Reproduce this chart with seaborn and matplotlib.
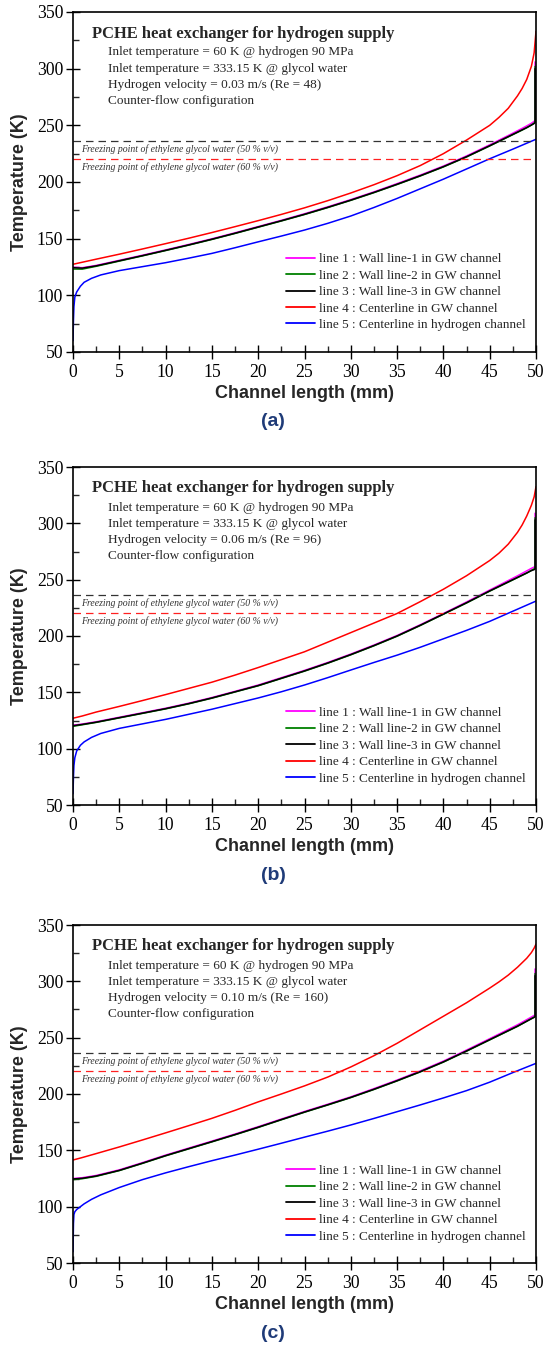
import matplotlib
matplotlib.use("Agg")
import matplotlib.pyplot as plt
import matplotlib.transforms as mtransforms
from matplotlib.ticker import MultipleLocator
import seaborn as sns
import numpy as np

sns.set_style("ticks")
plt.rcParams['font.family'] = ['Liberation Serif', 'DejaVu Serif']

# ---------------- data ----------------
X_GRID = [0, 1, 2.5, 5, 7.5, 10, 12.5, 15, 17.5, 20, 22.5, 25, 27.5, 30, 32.5,
          35, 37.5, 40, 42.5, 45, 46, 47, 48, 48.5, 49, 49.5, 49.8, 50]
X_BLUE = [0, 0.05, 0.1, 0.2, 0.4, 0.8, 1.2, 2, 3, 5, 7.5, 10, 12.5, 15, 17.5, 20,
          22.5, 25, 27.5, 30, 32.5, 35, 37.5, 40, 42.5, 45, 47.5, 50]
SPIKE_X = 49.9  # outlet position where wall temperatures jump

# panel (a)
red_a = [127.4, 129.2, 131.9, 136.3, 140.9, 145.6, 150.4, 155.4, 160.6, 165.9, 171.4, 177.2, 183.5,
         190.3, 197.6, 205.6, 214.5, 225.0, 237.0, 250.0, 257.0, 265.0, 276.0, 282.5, 290.5, 302.0, 314.0, 333.0]
black_a = [124.4, 124.0, 126.0, 130.5, 135.0, 139.7, 144.5, 149.5, 154.8, 160.3, 165.8, 171.5, 177.6,
           184.0, 190.8, 198.0, 205.5, 213.5, 222.3, 232.0, 236.0, 240.0, 244.0, 246.0, 248.0, 250.2, 251.6, 252.4]
magenta_a = [124.8, 124.4, 126.4, 130.9, 135.4, 140.1, 144.9, 149.9, 155.2, 160.7, 166.2, 172.0, 178.1,
             184.5, 191.3, 198.6, 206.1, 214.1, 223.0, 232.8, 236.9, 241.0, 245.2, 247.3, 249.5, 251.8, 253.5, 254.8]
green_a = [123.2, 123.1, 125.6, 130.2, 134.8, 139.5, 144.3, 149.3, 154.6, 160.1, 165.6, 171.3, 177.4,
           183.8, 190.6, 197.8, 205.3, 213.3, 222.1, 231.8, 235.8, 239.8, 243.8, 245.8, 247.9, 250.3, 252.0, 253.2]
blue_a = [60, 78, 90, 98.5, 103, 108, 111.5, 115, 118, 121.8, 125.3, 128.8, 132.8, 137.0, 142.0, 147.2,
          152.3, 157.6, 163.5, 170.0, 177.5, 185.5, 194.0, 202.5, 211.5, 220.5, 229.0, 237.7]
top_a = [306, 302, 300]  # magenta, green, black spike at outlet

# panel (b)
red_b = [127.0, 129.0, 132.5, 137.5, 142.7, 148.0, 153.5, 159.0, 165.3, 172.0, 179.0, 186.0, 194.5,
         203.0, 211.5, 220.0, 230.5, 241.5, 253.5, 267.0, 273.5, 281.5, 292.0, 298.5, 306.5, 316.0, 323.5, 332.5]
black_b = [120.4, 121.5, 123.5, 127.5, 131.5, 135.5, 140.0, 145.0, 150.5, 156.0, 162.5, 169.0, 176.0,
           183.5, 191.5, 200.0, 209.5, 219.5, 229.5, 240.0, 244.0, 248.0, 252.0, 254.0, 256.0, 258.0, 258.9, 259.5]
magenta_b = [120.8, 121.9, 123.9, 127.9, 131.9, 135.9, 140.4, 145.4, 150.9, 156.5, 163.0, 169.5, 176.5,
             184.0, 192.0, 200.5, 210.0, 220.0, 230.2, 240.8, 245.0, 249.2, 253.4, 255.6, 257.8, 260.0, 261.2, 262.0]
green_b = [119.8, 121.2, 123.3, 127.3, 131.3, 135.3, 139.8, 144.8, 150.3, 155.8, 162.3, 168.8, 175.8,
           183.3, 191.3, 199.8, 209.3, 219.3, 229.3, 239.8, 243.8, 247.8, 251.8, 253.8, 255.8, 258.3, 259.6, 260.5]
blue_b = [60, 75, 85, 92, 98, 103, 106, 110, 113.5, 118, 122, 126, 130.5, 135, 140, 145, 150.5, 156.5,
          163, 169.8, 176.5, 183, 190, 197.5, 205, 213, 222, 231]
top_b = [309, 305, 303]

# panel (c)
red_c = [141.4, 143.6, 147.1, 153.0, 159.2, 165.5, 171.9, 178.4, 185.5, 193.0, 200.0, 207.2, 215.0,
         224.0, 234.0, 245.0, 257.0, 269.0, 281.0, 294.0, 299.5, 305.5, 312.5, 316.5, 320.5, 325.5, 329.5, 333.0]
black_c = [124.6, 125.2, 127.2, 132.2, 138.6, 145.3, 151.5, 157.7, 164.0, 170.5, 177.3, 184.0, 190.4,
           197.0, 204.2, 211.8, 219.8, 228.5, 238.2, 248.2, 252.2, 256.2, 260.2, 262.4, 264.6, 266.8, 268.0, 268.6]
magenta_c = [125.0, 125.7, 127.7, 132.7, 139.1, 145.8, 152.0, 158.2, 164.5, 171.0, 177.8, 184.5, 190.9,
             197.5, 204.8, 212.4, 220.5, 229.2, 239.0, 249.1, 253.2, 257.3, 261.4, 263.7, 266.0, 268.3, 269.7, 270.5]
green_c = [124.0, 124.8, 126.9, 132.0, 138.4, 145.1, 151.3, 157.5, 163.8, 170.3, 177.1, 183.8, 190.2,
           196.8, 204.0, 211.6, 219.6, 228.3, 238.0, 248.0, 252.0, 256.0, 260.0, 262.3, 264.6, 266.9, 268.3, 269.2]
blue_c = [60, 85, 93, 95.5, 97.5, 100, 102.5, 106.5, 110.5, 117, 124, 130, 135.5, 140.8, 145.8, 151,
          156.3, 161.7, 167, 172.5, 178.3, 184.3, 190.3, 196.5, 203, 210.5, 219, 227.2]
top_c = [311, 307, 305]

PARAMS = ["Hydrogen velocity = 0.03 m/s (Re = 48)",
          "Hydrogen velocity = 0.06 m/s (Re = 96)",
          "Hydrogen velocity = 0.10 m/s (Re = 160)"]
PANEL_LABELS = ["(a)", "(b)", "(c)"]
FREEZE_50 = 236
FREEZE_60 = 220
LEGEND_LABELS = ["line 1 : Wall line-1 in GW channel",
                 "line 2 : Wall line-2 in GW channel",
                 "line 3 : Wall line-3 in GW channel",
                 "line 4 : Centerline in GW channel",
                 "line 5 : Centerline in hydrogen channel"]

panels = [
    (magenta_a, green_a, black_a, red_a, blue_a, top_a),
    (magenta_b, green_b, black_b, red_b, blue_b, top_b),
    (magenta_c, green_c, black_c, red_c, blue_c, top_c),
]

# ---------------- figure ----------------
W, H = 546, 1346
fig = plt.figure(figsize=(W / 100, H / 100), dpi=100)
fig.patch.set_facecolor("white")

ax_px = [(12, 352), (467, 805), (925, 1263)]
left_px, right_px = 73, 536

colors = ["#FF00FF", "#008000", "#000000", "#FF0000", "#0000FF"]
sans = ['Liberation Sans', 'DejaVu Sans']
serif = ['Liberation Serif', 'DejaVu Serif']

for i, (top, bot) in enumerate(ax_px):
    ax = fig.add_axes([left_px / W, 1 - bot / H, (right_px - left_px) / W, (bot - top) / H])
    hpx = bot - top
    mag, grn, blk, red, blu, tops = panels[i]
    wall_series = [mag, grn, blk]
    for j, ys in enumerate(wall_series):
        xs = list(X_GRID[:-1]) + [SPIKE_X, SPIKE_X]
        yv = list(ys[:-1]) + [ys[-1], tops[j]]
        sns.lineplot(x=xs, y=yv, ax=ax, color=colors[j], lw=1.1, estimator=None,
                     sort=False, label=LEGEND_LABELS[j])
    sns.lineplot(x=X_GRID, y=red, ax=ax, color=colors[3], lw=1.1, estimator=None,
                 sort=False, label=LEGEND_LABELS[3])
    sns.lineplot(x=X_BLUE, y=blu, ax=ax, color=colors[4], lw=1.1, estimator=None,
                 sort=False, label=LEGEND_LABELS[4])

    ax.axhline(FREEZE_50, color="#333333", lw=0.9, ls=(0, (6, 4)))
    ax.axhline(FREEZE_60, color="#FF2020", lw=0.9, ls=(0, (6, 4)))
    trans = mtransforms.blended_transform_factory(ax.transAxes, ax.transData)
    ax.text(0.017, FREEZE_50 - 6.5, "Freezing point of ethylene glycol water (50 % v/v)",
            transform=trans, fontsize=7, style='italic', family=serif, color="#333333", va='center')
    ax.text(0.017, FREEZE_60 - 7.0, "Freezing point of ethylene glycol water (60 % v/v)",
            transform=trans, fontsize=7, style='italic', family=serif, color="#333333", va='center')

    ax.set_xlim(0, 50)
    ax.set_ylim(50, 350)
    ax.xaxis.set_major_locator(MultipleLocator(5))
    ax.xaxis.set_minor_locator(MultipleLocator(2.5))
    ax.yaxis.set_major_locator(MultipleLocator(50))
    ax.yaxis.set_minor_locator(MultipleLocator(25))
    ax.tick_params(which='major', direction='inout', length=10, width=1.0, pad=3.5,
                   labelsize=12.7, colors='black')
    ax.tick_params(axis='y', which='major', pad=2)
    ax.tick_params(which='minor', direction='in', length=4, width=1.0)
    ax.tick_params(top=False, right=False, which='both')
    for lab in ax.get_xticklabels() + ax.get_yticklabels():
        lab.set_family(serif)
    for sp in ax.spines.values():
        sp.set_visible(True)
        sp.set_linewidth(1.2)
        sp.set_color('black')

    ax.set_xlabel("Channel length (mm)", fontsize=13, fontweight='bold', family=sans, labelpad=3)
    ax.set_ylabel("Temperature (K)", fontsize=13, fontweight='bold', family=sans, labelpad=6)

    # annotation block
    ax.text(0.04, 1 - 21.5 / hpx, "PCHE heat exchanger for hydrogen supply",
            transform=ax.transAxes, fontsize=11.9, fontweight='bold', family=serif, va='center')
    lines = ["Inlet temperature = 60 K @ hydrogen 90 MPa",
             "Inlet temperature = 333.15 K @ glycol water",
             PARAMS[i],
             "Counter-flow configuration"]
    for k, t in enumerate(lines):
        ax.text(0.076, 1 - (40.5 + 16.1 * k) / hpx, t, transform=ax.transAxes,
                fontsize=9.5, family=serif, va='center')

    leg = ax.legend(loc='upper left', bbox_to_anchor=(0.46, 1 - (253 - 12) / 340), frameon=False,
                    fontsize=9.5, handlelength=2.2, handletextpad=0.3, labelspacing=0.32,
                    borderpad=0, borderaxespad=0)
    for t in leg.get_texts():
        t.set_family(serif)
    for lh in leg.get_lines():
        lh.set_linewidth(1.3)

    fig.text(0.5, 1 - (bot + 70) / H, PANEL_LABELS[i], ha='center', va='center',
             fontsize=14, fontweight='bold', family=sans, color="#1F3B78")

fig.savefig("out.png", dpi=100, facecolor="white")
